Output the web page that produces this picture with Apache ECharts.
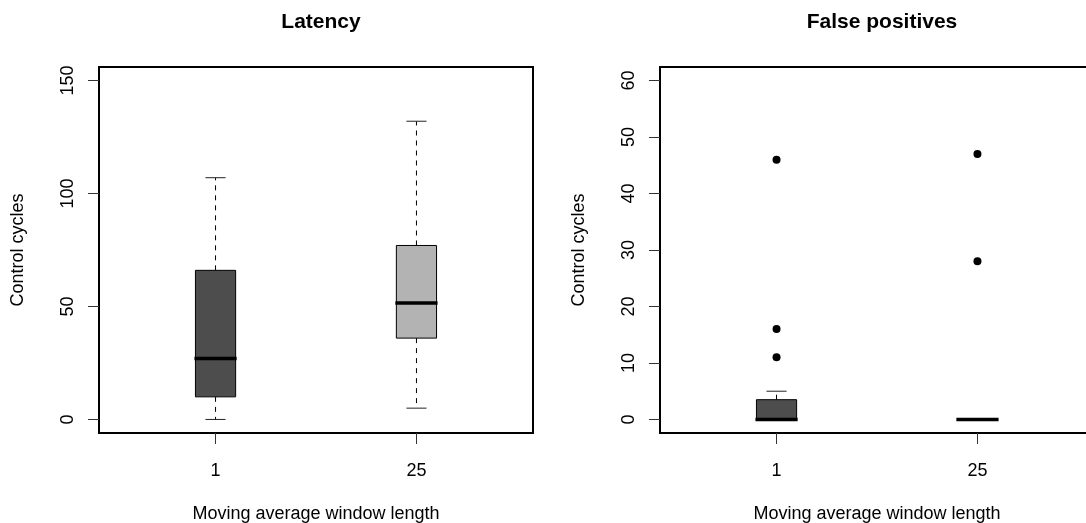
<!DOCTYPE html>
<html><head><meta charset="utf-8">
<script src="https://cdn.jsdelivr.net/npm/echarts@6/dist/echarts.min.js"></script>
<style>html,body{margin:0;padding:0;background:#fff}#c{width:1086px;height:523px}</style>
</head><body><div id="c"></div>
<script>
// Categories (window length)
const categories = ['1', '25'];
// Box stats: [low whisker, Q1, median, Q3, high whisker]
const latencyStats = [[0, 10, 27, 66, 107], [5, 36, 51.5, 77, 132]];
const fpStats = [[0, 0, 0, 3.5, 5], [0, 0, 0, 0, 0]];
// Outliers per category
const latencyOutliers = [[], []];
const fpOutliers = [[46, 16, 11], [47, 28]];
const latencyTicks = [0, 50, 100, 150];
const fpTicks = [0, 10, 20, 30, 40, 50, 60];
const boxFill = ['#4d4d4d', '#b3b3b3'];

const FONT = 'Liberation Sans, Arial, Helvetica, sans-serif';
const xPos = categories.map((c, i) => i + 1);

function boxData(stats) {
  return stats.map((s, i) => [xPos[i]].concat(s).concat([i]));
}
function outlierData(outs) {
  const r = [];
  outs.forEach((arr, i) => arr.forEach(v => r.push([xPos[i], v])));
  return r;
}
function renderBox(params, api) {
  const x = api.value(0);
  const lo = api.value(1), q1 = api.value(2), med = api.value(3), q3 = api.value(4), hi = api.value(5);
  const idx = api.value(6);
  const half = 0.1;
  const pL = api.coord([x - half, q3]);
  const pR = api.coord([x + half, q1]);
  const c = api.coord([x, med]);
  const cap1 = api.coord([x - half / 2, hi]);
  const cap2 = api.coord([x + half / 2, lo]);
  const pHi = api.coord([x, hi]);
  const pLo = api.coord([x, lo]);
  const children = [];
  const dash = {stroke: '#000', lineWidth: 1, lineDash: [5, 5]};
  children.push({type: 'line', shape: {x1: c[0], y1: pL[1], x2: c[0], y2: pHi[1]}, style: dash});
  children.push({type: 'line', shape: {x1: c[0], y1: pR[1], x2: c[0], y2: pLo[1]}, style: dash});
  children.push({type: 'line', shape: {x1: cap1[0], y1: pHi[1], x2: cap2[0], y2: pHi[1]}, style: {stroke: '#222', lineWidth: 1}});
  children.push({type: 'line', shape: {x1: cap1[0], y1: pLo[1], x2: cap2[0], y2: pLo[1]}, style: {stroke: '#222', lineWidth: 1}});
  children.push({type: 'rect', shape: {x: pL[0], y: pL[1], width: pR[0] - pL[0], height: pR[1] - pL[1]},
    style: {fill: boxFill[idx], stroke: '#000', lineWidth: 1}});
  children.push({type: 'line', shape: {x1: pL[0] - 1, y1: c[1], x2: pR[0] + 1, y2: c[1]},
    style: {stroke: '#000', lineWidth: 3.5}});
  return {type: 'group', children: children};
}

function yAxisCfg(gi, min, max, ticks) {
  return {
    type: 'value', gridIndex: gi, min: min, max: max,
    name: 'Control cycles', nameLocation: 'middle', nameGap: 72,
    nameTextStyle: {fontFamily: FONT, fontSize: 18, color: '#000'},
    splitLine: {show: false}, axisLine: {show: false, onZero: false},
    axisTick: {show: true, length: 11, lineStyle: {color: '#333'}, customValues: ticks},
    axisLabel: {rotate: 90, margin: 22, fontFamily: FONT, fontSize: 18, color: '#000', customValues: ticks}
  };
}
function xAxisCfg(gi) {
  return {
    type: 'value', gridIndex: gi, min: 0.42, max: 2.58, position: 'bottom',
    name: 'Moving average window length', nameLocation: 'middle', nameGap: 72,
    nameTextStyle: {fontFamily: FONT, fontSize: 18, color: '#000'},
    splitLine: {show: false}, axisLine: {show: false, onZero: false},
    axisTick: {show: true, length: 11, lineStyle: {color: '#333'}, customValues: xPos},
    axisLabel: {margin: 29, fontFamily: FONT, fontSize: 18, color: '#000', customValues: xPos,
      formatter: v => categories[Math.round(v) - 1] || ''}
  };
}

const gridBase = {top: 67, width: 434, height: 366, show: true, borderColor: '#000', borderWidth: 2,
  backgroundColor: 'transparent', containLabel: false, outerBoundsMode: 'none'};

const chart = echarts.init(document.getElementById('c'), null, {renderer: 'canvas'});
chart.setOption({
  animation: false,
  backgroundColor: '#fff',
  title: [
    {text: 'Latency', left: 316, top: 7, textAlign: 'center',
      textStyle: {fontFamily: FONT, fontSize: 21, fontWeight: 'bold', color: '#000'}},
    {text: 'False positives', left: 877, top: 7, textAlign: 'center',
      textStyle: {fontFamily: FONT, fontSize: 21, fontWeight: 'bold', color: '#000'}}
  ],
  grid: [
    Object.assign({left: 99}, gridBase),
    Object.assign({left: 660}, gridBase)
  ],
  xAxis: [xAxisCfg(0), xAxisCfg(1)],
  yAxis: [yAxisCfg(0, -6, 156, latencyTicks), yAxisCfg(1, -2.4, 62.4, fpTicks)],
  series: [
    {type: 'custom', xAxisIndex: 0, yAxisIndex: 0, renderItem: renderBox, data: boxData(latencyStats),
      encode: {x: 0, y: [1, 2, 3, 4, 5]}, clip: false},
    {type: 'custom', xAxisIndex: 1, yAxisIndex: 1, renderItem: renderBox, data: boxData(fpStats),
      encode: {x: 0, y: [1, 2, 3, 4, 5]}, clip: false},
    {type: 'scatter', xAxisIndex: 0, yAxisIndex: 0, data: outlierData(latencyOutliers), symbolSize: 8, itemStyle: {color: '#000', opacity: 1}},
    {type: 'scatter', xAxisIndex: 1, yAxisIndex: 1, data: outlierData(fpOutliers), symbolSize: 8, itemStyle: {color: '#000', opacity: 1}}
  ]
});
</script></body></html>
